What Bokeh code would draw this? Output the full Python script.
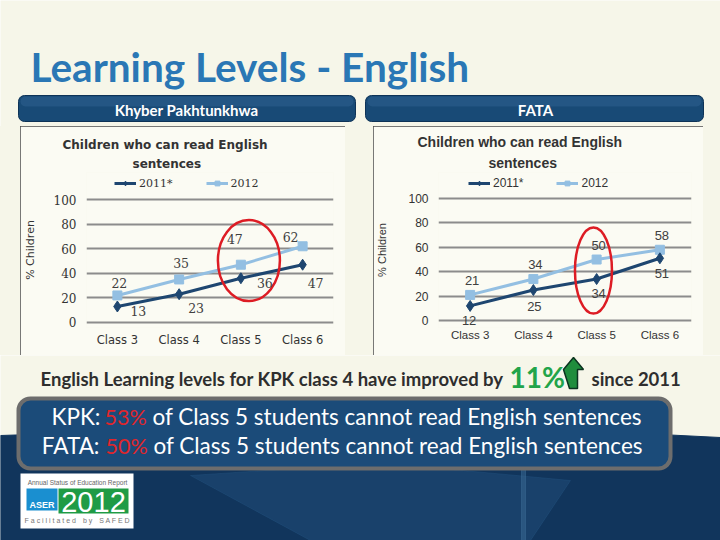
from bokeh.plotting import figure
from bokeh.layouts import column, row
from bokeh.models import (ColumnDataSource, LabelSet, Legend, LegendItem, Range1d,
                          FactorRange, FixedTicker, BoxAnnotation, Label, Title)
from bokeh.transform import dodge
from bokeh.core.properties import value
from bokeh.embed import file_html
from bokeh.resources import INLINE

# ---------------- data ----------------
classes = ["Class 3", "Class 4", "Class 5", "Class 6"]
kpk_2011 = [13, 23, 36, 47]
kpk_2012 = [22, 35, 47, 62]
fata_2011 = [12, 25, 34, 51]
fata_2012 = [21, 34, 50, 58]
y_ticks = [0, 20, 40, 60, 80, 100]
series_names = ["2011*", "2012"]
chart_title = ["Children who can read English", "sentences"]
y_label = "% Children"
slide_title = "Learning Levels - English"
region_names = ["Khyber Pakhtunkhwa", "FATA"]
improve_text = "English Learning levels for KPK class 4 have improved by"
improve_value = "11%"
improve_tail = "since 2011"
kpk_msg = ["KPK:", "53%", "of Class 5 students cannot read English sentences"]
fata_msg = ["FATA:", "50%", "of Class 5 students cannot read English sentences"]

# ---------------- styles ----------------
CREAM = "#f6f6e9"
BOX_FILL = "#fbfbf3"
DARK = "#1e4670"
LIGHT = "#93bfe2"
NAVY = "#184a76"
GRID = "#8c8c8c"
TXT = "#333333"

# label nudges (screen px) per point
kpk_dx11, kpk_dy11 = [21, 17, 24, 13], [-4, -14, -5, -18]
kpk_dx12, kpk_dy12 = [2, 2, -6, -12], [12, 16, 26, 9]
fata_dx11, fata_dy11 = [-1, 1, 2, 2], [-15, -16, -14, -15]
fata_dx12, fata_dy12 = [2, 2, 2, 2], [14, 15, 14, 14]


def make_chart(v11, v12, width, border_left, y_min, y_max, fonts,
               dx11, dy11, dx12, dy12, ell, tick_standoff_x, ylab_standoff,
               title_offsets, legend_xy, legend_size, label_size):
    tick_font, cat_font, title_font, title_size = fonts
    p = figure(width=width, height=229,
               x_range=FactorRange(*classes), y_range=Range1d(y_min, y_max),
               output_backend="svg", toolbar_location=None, title=None,
               min_border_left=border_left, min_border_right=12,
               min_border_top=46, min_border_bottom=28,
               styles={"outline": "1px solid #4d4d4d", "outline-offset": "-1px"})
    p.background_fill_color = BOX_FILL
    p.border_fill_color = BOX_FILL
    p.outline_line_color = None

    for txt, off in zip(reversed(chart_title), reversed(title_offsets)):
        p.add_layout(Title(text=txt, align="left", offset=off, text_font=title_font,
                           text_font_size=title_size, text_font_style="bold",
                           text_color=TXT, standoff=3), "above")

    p.xgrid.grid_line_color = None
    p.ygrid.ticker = FixedTicker(ticks=y_ticks)
    p.ygrid.grid_line_color = GRID
    p.ygrid.grid_line_width = 2
    p.yaxis.ticker = FixedTicker(ticks=y_ticks)
    for ax in (p.xaxis, p.yaxis):
        ax.axis_line_color = None
        ax.major_tick_line_color = None
        ax.minor_tick_line_color = None
        ax.major_tick_out = 0
        ax.major_tick_in = 0
        ax.minor_tick_out = 0
        ax.major_label_text_color = TXT
    p.yaxis.major_label_text_font = tick_font
    p.yaxis.major_label_text_font_size = "12px"
    p.yaxis.major_label_standoff = 10
    p.yaxis.axis_label = y_label
    p.yaxis.axis_label_text_font = cat_font
    p.yaxis.axis_label_text_font_size = "11px"
    p.yaxis.axis_label_text_font_style = "normal"
    p.yaxis.axis_label_text_color = TXT
    p.yaxis.axis_label_standoff = ylab_standoff
    p.xaxis.major_label_text_font = cat_font
    p.xaxis.major_label_text_font_size = "11.5px"
    p.xaxis.major_label_standoff = tick_standoff_x

    src = ColumnDataSource(dict(x=classes, y11=v11, y12=v12,
                                t11=[str(v) for v in v11], t12=[str(v) for v in v12],
                                dx11=dx11, dy11=dy11, dx12=dx12, dy12=dy12))
    l12 = p.line("x", "y12", source=src, line_color=LIGHT, line_width=3)
    m12 = p.scatter("x", "y12", source=src, marker="square", size=9, color=LIGHT)
    l11 = p.line("x", "y11", source=src, line_color=DARK, line_width=3)
    m11 = p.scatter("x", "y11", source=src, marker="diamond", size=11, color=DARK)

    for t, y, dx, dy in (("t11", "y11", "dx11", "dy11"), ("t12", "y12", "dx12", "dy12")):
        p.add_layout(LabelSet(x="x", y=y, text=t, source=src, x_offset=dx, y_offset=dy,
                              text_align="center", text_baseline="middle",
                              text_font=value(tick_font), text_font_size=label_size,
                              text_color="#404040"))

    ell_dodge, ell_y, ell_w, ell_h = ell
    esrc = ColumnDataSource(dict(x=[classes[2]], y=[ell_y]))
    p.ellipse(x=dodge("x", ell_dodge, range=p.x_range), y="y", width=ell_w, height=ell_h,
              width_units="screen", height_units="screen", source=esrc,
              fill_alpha=0, line_color="#dd1c24", line_width=2.5)

    legend = Legend(items=[LegendItem(label=series_names[0], renderers=[l11, m11]),
                           LegendItem(label=series_names[1], renderers=[l12, m12])],
                    orientation="horizontal", location=legend_xy,
                    glyph_width=22, glyph_height=12, label_standoff=3, spacing=33,
                    padding=2, margin=0, border_line_color=None,
                    background_fill_alpha=0,
                    label_text_font=tick_font, label_text_font_size=legend_size,
                    label_text_color=TXT, label_height=14)
    p.add_layout(legend, "center")
    return p


kpk = make_chart(kpk_2011, kpk_2012, 325, 63, -4.07, 122,
                 ("DejaVu Serif", "DejaVu Sans", "DejaVu Sans", "12px"),
                 kpk_dx11, kpk_dy11, kpk_dx12, kpk_dy12,
                 (0.13, 50.4, 62, 81), 5, 14, [-24, 46], (28, 137), "11px", "12.5px")
kpk.margin = (0, 0, 0, 20)

fata = make_chart(fata_2011, fata_2012, 330, 65, -5.7, 121.3,
                  ("Liberation Sans", "Liberation Sans", "Liberation Sans", "14px"),
                  fata_dx11, fata_dy11, fata_dx12, fata_dy12,
                  (-0.05, 41, 37, 86), 1, 17, [-21, 50], (30, 137), "12px", "13px")
fata.margin = (0, 0, 0, 28)


def bg_fig(h):
    f = figure(width=720, height=h, x_range=Range1d(0, 720), y_range=Range1d(h, 0),
               x_axis_type=None, y_axis_type=None, output_backend="svg",
               toolbar_location=None, min_border=0, title=None)
    f.background_fill_color = CREAM
    f.border_fill_color = CREAM
    f.outline_line_color = None
    return f


# ---------------- top band ----------------
top = bg_fig(126)
top.add_layout(Label(x=30, y=66, text=slide_title, text_font="Lato", text_font_style="bold",
                     text_font_size="40.5px", text_color="#2a77b5", text_baseline="middle"))
for (l, r), name, cx in (((18, 355), region_names[0], 186), ((365, 703), region_names[1], 535)):
    top.add_layout(BoxAnnotation(left=l, right=r, top=95, bottom=121, fill_color=NAVY,
                                 fill_alpha=1, line_color="#0e3357", line_alpha=1,
                                 line_width=1, border_radius=6))
    top.add_layout(BoxAnnotation(left=l + 2, right=r - 2, top=96, bottom=106, fill_color="#2d5f8e",
                                 fill_alpha=0.6, line_alpha=0, border_radius=5))
    top.add_layout(Label(x=cx, y=109, text=name, text_font="Lato", text_font_style="bold",
                         text_font_size="15px", text_color="white", text_align="center",
                         text_baseline="middle"))

# ---------------- bottom band ----------------
bot = bg_fig(185)
bot.patch([0, 120, 250, 360, 470, 600, 720, 720, 0],
          [80, 76, 71, 69, 71, 76, 82, 185, 185], color="#11355c")
bot.patch([190, 310, 430, 570, 530, 310],
          [120, 112, 112, 125, 185, 185], color="#285a88", alpha=0.35)
bot.patch([521, 525, 525, 521], [112, 112, 185, 185], color="#3c6c96", alpha=0.5)

bot.add_layout(Label(x=503, y=23, text=improve_text, text_font="Lato", text_font_style="bold",
                     text_font_size="18.5px", text_color="#2e2e2e", text_align="right",
                     text_baseline="middle"))
bot.add_layout(Label(x=509, y=21, text=improve_value, text_font="Lato", text_font_style="bold",
                     text_font_size="28px", text_color="#22a44a", text_align="left",
                     text_baseline="middle"))
bot.patch([569, 563, 573, 583, 577, 577, 569],
          [33, 14, 2, 14, 14, 33, 33], fill_color="#1f8d3d", line_color="#0b3320", line_width=1.5)
bot.add_layout(Label(x=591, y=23, text=improve_tail, text_font="Lato", text_font_style="bold",
                     text_font_size="18.5px", text_color="#2e2e2e", text_align="left",
                     text_baseline="middle"))

bot.add_layout(BoxAnnotation(left=18, right=670, top=43, bottom=113, fill_color="#1b4b79",
                             fill_alpha=1, line_color="#6d6d6d", line_alpha=1, line_width=4,
                             border_radius=12))
for msg, yy, xr, xm, xt in ((kpk_msg, 61, 100, 104, 152), (fata_msg, 90, 99, 105, 153)):
    bot.add_layout(Label(x=xr, y=yy, text=msg[0], text_font="Lato", text_font_size="22.5px",
                         text_color="white", text_align="right", text_baseline="middle"))
    bot.add_layout(Label(x=xm, y=yy, text=msg[1], text_font="Lato", text_font_size="21.5px",
                         text_color="#e0262b", text_align="left", text_baseline="middle"))
    bot.add_layout(Label(x=xt, y=yy, text=msg[2], text_font="Lato", text_font_size="22.5px",
                         text_color="white", text_align="left", text_baseline="middle"))

# logo
bot.add_layout(BoxAnnotation(left=20, right=133, top=118, bottom=173, fill_color="white",
                             fill_alpha=1, line_alpha=0))
bot.add_layout(BoxAnnotation(left=26, right=57, top=133, bottom=155, fill_color="#1a8fd0",
                             fill_alpha=1, line_alpha=0))
bot.add_layout(BoxAnnotation(left=58, right=128, top=133, bottom=158, fill_color="#1f9b45",
                             fill_alpha=1, line_alpha=0))
bot.add_layout(Label(x=77, y=127, text="Annual Status of Education Report", text_font="Liberation Sans",
                     text_font_size="6.5px", text_color="#666666", text_align="center",
                     text_baseline="middle"))
bot.add_layout(Label(x=93, y=146, text="2012", text_font="Liberation Sans", text_font_size="29px",
                     text_color="white", text_align="center", text_baseline="middle"))
bot.add_layout(Label(x=41.5, y=149, text="ASER", text_font="Liberation Sans", text_font_style="bold",
                     text_font_size="9px", text_color="white", text_align="center",
                     text_baseline="middle"))
bot.add_layout(Label(x=77, y=165, text="F a c i l i t a t e d\u2002\u2002b y\u2002\u2002S A F E D",
                     text_font="Liberation Sans", text_font_size="7px", text_color="#777777",
                     text_align="center", text_baseline="middle"))

layout = column(top,
                row(kpk, fata, width=720, styles={"background-color": CREAM}),
                bot, spacing=0)

open("out.html", "w").write(file_html(layout, INLINE))
